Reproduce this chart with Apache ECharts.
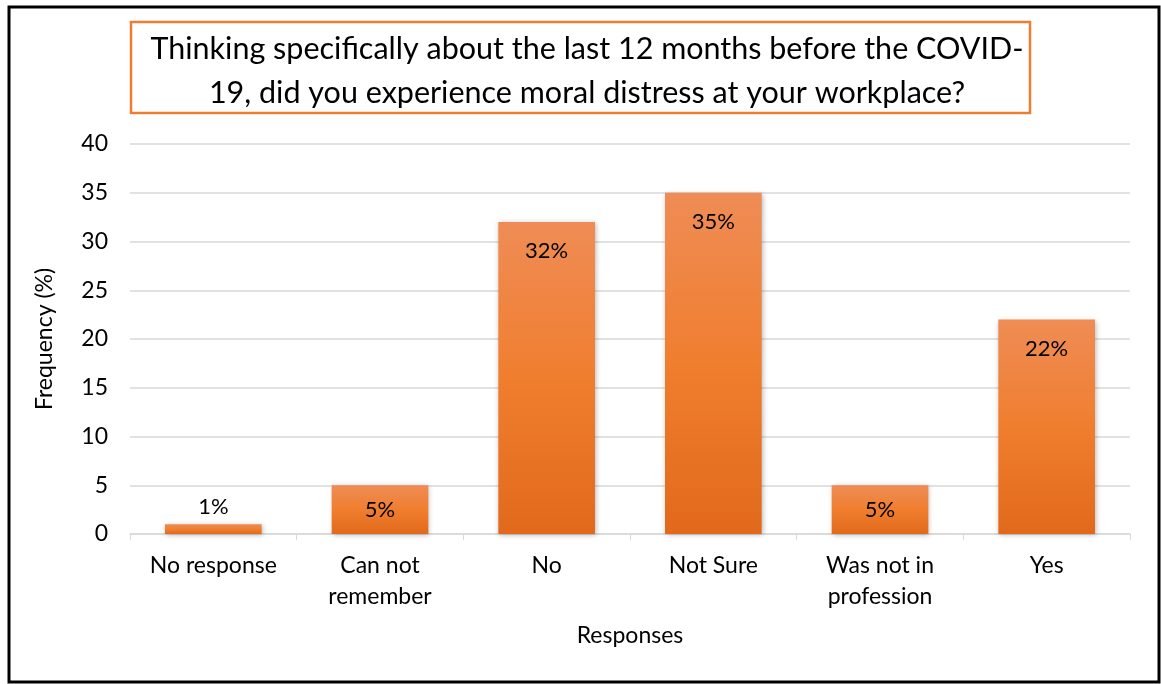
<!DOCTYPE html>
<html>
<head>
<meta charset="utf-8">
<style>
  html, body { margin: 0; padding: 0; background: #fff; }
  #chart { width: 1161px; height: 684px; }
</style>
<script src="https://cdn.jsdelivr.net/npm/echarts@6/dist/echarts.min.js"></script>
</head>
<body>
<div id="chart"></div>
<script>
// Survey responses: moral distress in the 12 months before COVID-19
const categories = ['No response', 'Can not\nremember', 'No', 'Not Sure', 'Was not in\nprofession', 'Yes'];
const frequencies = [1, 5, 32, 35, 5, 22];
const yTicks = { min: 0, max: 40, interval: 5 };

const FONT = 'Lato, "Open Sans", sans-serif';
const chart = echarts.init(document.getElementById('chart'), null, { renderer: 'canvas' });

const barFill = new echarts.graphic.LinearGradient(0, 0, 0, 1, [
  { offset: 0, color: '#EF8C55' },
  { offset: 0.5, color: '#F07E2F' },
  { offset: 1, color: '#E2691B' }
]);

// Short bars keep their label centred (or above, for the tiniest one)
function labelFor(v) {
  if (v <= 2) return { position: 'top', distance: 6 };
  if (v <= 6) return { position: 'inside' };
  return { position: 'insideTop', distance: 18 };
}

chart.setOption({
  backgroundColor: '#ffffff',
  animation: false,
  title: {
    text: 'Thinking specifically about the last 12 months before the COVID-\n19, did you experience moral distress at your workplace?',
    left: 582,
    top: 22,
    textAlign: 'center',
    textStyle: { fontFamily: FONT, fontSize: 30.5, fontWeight: 'normal', color: '#000', lineHeight: 44 }
  },
  graphic: [
    { type: 'rect', shape: { x: 9, y: 7, width: 1150, height: 675 },
      style: { fill: 'none', stroke: '#000', lineWidth: 3 }, z: -1 },
    { type: 'rect', shape: { x: 131, y: 22, width: 899, height: 91 },
      style: { fill: 'none', stroke: '#ED7D31', lineWidth: 2.5 }, z: 10 }
  ],
  grid: { left: 130, right: 31, top: 144, bottom: 150, containLabel: false },
  xAxis: {
    type: 'category',
    data: categories,
    name: 'Responses',
    nameLocation: 'middle',
    nameGap: 90,
    nameTextStyle: { fontFamily: FONT, fontSize: 23, color: '#000' },
    axisLine: { lineStyle: { color: '#D9D9D9', width: 1.5 } },
    axisTick: { show: true, length: 6, lineStyle: { color: '#D9D9D9' } },
    axisLabel: { fontFamily: FONT, fontSize: 23, color: '#000', margin: 16, lineHeight: 31, interval: 0 }
  },
  yAxis: {
    type: 'value',
    min: yTicks.min, max: yTicks.max, interval: yTicks.interval,
    name: 'Frequency (%)',
    nameLocation: 'middle',
    nameGap: 74,
    nameTextStyle: { fontFamily: FONT, fontSize: 23, color: '#000' },
    axisLine: { show: false },
    axisTick: { show: false },
    axisLabel: { fontFamily: FONT, fontSize: 23, color: '#000', margin: 22 },
    splitLine: { lineStyle: { color: '#D9D9D9', width: 1.5 } }
  },
  series: [{
    type: 'bar',
    barWidth: '58%',
    data: frequencies.map(v => ({ value: v, label: labelFor(v) })),
    itemStyle: {
      color: barFill,
      shadowColor: 'rgba(0,0,0,0.28)',
      shadowBlur: 5,
      shadowOffsetX: 1,
      shadowOffsetY: 1
    },
    label: {
      show: true,
      formatter: '{c}%',
      fontFamily: FONT,
      fontSize: 22,
      color: '#000'
    }
  }]
});
</script>
</body>
</html>
